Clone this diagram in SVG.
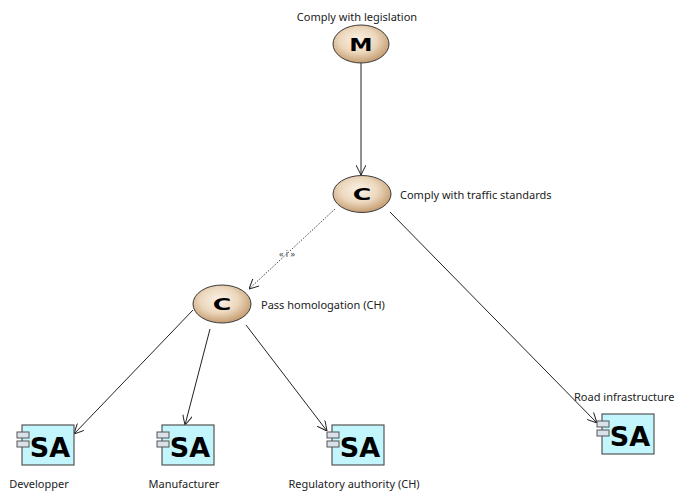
<svg xmlns="http://www.w3.org/2000/svg" width="685" height="499" viewBox="0 0 685 499">
<style>
.lbl{font-family:"Noto Sans","Liberation Sans",Arial,sans-serif;font-size:11px;fill:#222}
.ell{fill:url(#eg);stroke:#3a3a3a;stroke-width:1}
.let{font-family:"DejaVu Sans",sans-serif;font-weight:bold;font-size:18px;fill:#000;text-anchor:middle}
.box{fill:#c2f5fc;stroke:#555;stroke-width:1.2}
.tab{fill:#d9e1ea;stroke:#555;stroke-width:1}
.sa{font-family:"DejaVu Sans",sans-serif;font-weight:bold;font-size:27px;fill:#000;text-anchor:middle}
.con{fill:none;stroke:#222;stroke-width:1}
.dot{fill:none;stroke:#444;stroke-width:1;stroke-dasharray:1.5 1.5}
.stereo{font-family:"Noto Sans","Liberation Sans",Arial,sans-serif;font-size:9px;fill:#444}
</style>
<defs>
<radialGradient id="eg" cx="0.45" cy="0.4" r="0.6">
<stop offset="0" stop-color="#fbf3e8"/>
<stop offset="0.55" stop-color="#ecd7bd"/>
<stop offset="1" stop-color="#c49c70"/>
</radialGradient>
<marker id="arr" viewBox="0 0 10 10" refX="10" refY="5" markerWidth="10" markerHeight="10" markerUnits="userSpaceOnUse" orient="auto">
<path d="M0,0 L10,5 L0,10" fill="none" stroke="#222" stroke-width="1"/>
</marker>
</defs>
<g id="connectors">
<line class="con" x1="361" y1="63" x2="361" y2="175" marker-end="url(#arr)"/>
<line class="dot" x1="335" y1="209" x2="249" y2="289" marker-end="url(#arr)"/>
<text class="stereo" x="287" y="257" text-anchor="middle">« i »</text>
<line class="con" x1="390" y1="212" x2="597" y2="423" marker-end="url(#arr)"/>
<line class="con" x1="193" y1="310" x2="74" y2="434" marker-end="url(#arr)"/>
<line class="con" x1="210" y1="329" x2="185" y2="425" marker-end="url(#arr)"/>
<line class="con" x1="246" y1="325" x2="327" y2="431" marker-end="url(#arr)"/>
</g>
<g id="n-legislation">
<ellipse class="ell" cx="361" cy="44" rx="28" ry="19"/>
<text class="let" x="0" y="0" transform="translate(361,51) scale(1.3,1)">M</text>
<text class="lbl" x="357" y="21" text-anchor="middle">Comply with legislation</text>
</g>
<g id="n-traffic">
<ellipse class="ell" cx="362" cy="194" rx="29" ry="18.5"/>
<text class="let" x="0" y="0" transform="translate(362,200) scale(1.4,0.9)">C</text>
<text class="lbl" x="400" y="199">Comply with traffic standards</text>
</g>
<g id="n-homologation">
<ellipse class="ell" cx="222" cy="304" rx="29" ry="19"/>
<text class="let" x="0" y="0" transform="translate(222,310) scale(1.4,0.9)">C</text>
<text class="lbl" x="261" y="309">Pass homologation (CH)</text>
</g>
<g id="n-developper">
<rect class="box" x="22" y="425" width="52" height="40"/>
<rect class="tab" x="17" y="432" width="12" height="6"/>
<rect class="tab" x="17" y="441" width="12" height="6"/>
<text class="sa" x="50" y="457">SA</text>
<text class="lbl" x="39" y="488" text-anchor="middle">Developper</text>
</g>
<g id="n-manufacturer">
<rect class="box" x="162" y="425" width="52" height="40"/>
<rect class="tab" x="157" y="432" width="12" height="6"/>
<rect class="tab" x="157" y="441" width="12" height="6"/>
<text class="sa" x="190" y="457">SA</text>
<text class="lbl" x="184" y="488" text-anchor="middle">Manufacturer</text>
</g>
<g id="n-regulatory">
<rect class="box" x="332" y="425" width="52" height="40"/>
<rect class="tab" x="327" y="432" width="12" height="6"/>
<rect class="tab" x="327" y="441" width="12" height="6"/>
<text class="sa" x="360" y="457">SA</text>
<text class="lbl" x="354" y="488" text-anchor="middle">Regulatory authority (CH)</text>
</g>
<g id="n-road">
<rect class="box" x="602" y="414" width="52" height="40"/>
<rect class="tab" x="597" y="421" width="12" height="6"/>
<rect class="tab" x="597" y="430" width="12" height="6"/>
<text class="sa" x="630" y="446">SA</text>
<text class="lbl" x="574" y="401">Road infrastructure</text>
</g>
</svg>
